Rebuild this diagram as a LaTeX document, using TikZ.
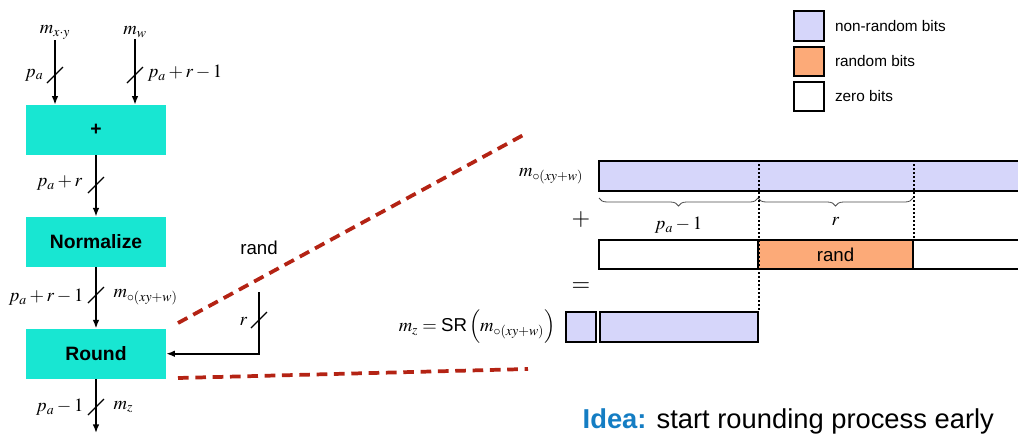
\documentclass[tikz,border=0pt]{standalone}
\usepackage{amsmath}
\usepackage{mathptmx}
\usepackage{fontspec}
\setmainfont{Liberation Sans}
\usepackage{tikz}
\usetikzlibrary{arrows.meta, positioning, calc, fit, decorations.pathreplacing}
\definecolor{opcyan}{RGB}{24,230,210}
\definecolor{nonrand}{RGB}{214,214,250}
\definecolor{randbits}{RGB}{252,170,120}
\definecolor{zoomred}{RGB}{180,35,20}
\definecolor{ideablue}{RGB}{20,125,195}
\tikzset{busmark/.pic={\draw[line width=1pt] (-8,8) -- (8,-8);}}

\begin{document}
\begin{tikzpicture}[
    x=0.75pt, y=-0.75pt,
    node distance=46pt,
    op/.style={rectangle, fill=opcyan, minimum width=105pt, minimum height=37.5pt, inner sep=0pt, font=\fontsize{14.5}{17}\selectfont\bfseries},
    arrow/.style={-{Latex[length=6.5pt, width=5pt]}, line width=1.2pt},
    lbl/.style={font=\fontsize{14}{16}\selectfont, inner sep=1pt},
    sans/.style={font=\fontsize{14}{16}\selectfont},
    bits/.style={rectangle, draw, line width=1.5pt, inner sep=0pt},
    legtext/.style={font=\fontsize{11.5}{13}\selectfont, anchor=west},
    brc/.style={decorate, decoration={brace, mirror, amplitude=6pt}, draw=black!70, semithick},
    zoomline/.style={draw=zoomred, line width=2.8pt, dash pattern=on 8pt off 5pt},
    dots/.style={line width=1.3pt, dash pattern=on 1.2pt off 1.8pt}
]
    \useasboundingbox (0,0) rectangle (1018,433);

    % datapath on the left
    \node[op] (plus) at (96,130) {+};
    \node[op, below=of plus] (norm) {Normalize};
    \node[op, below=of norm] (round) {Round};

    \node[lbl] (mxy) at (55,32) {$m_{x\cdot y}$};
    \node[lbl] (mw) at (135,32) {$m_w$};
    \coordinate (out) at (96,433);

    \draw[arrow] (mxy) -- (mxy |- plus.north);
    \draw[arrow] (mw) -- (mw |- plus.north);
    \draw[arrow] (plus) -- (norm);
    \draw[arrow] (norm) -- (round);
    \draw[arrow] (round) -- (out);

    \pic at (55,75) {busmark};
    \pic at (135,75) {busmark};
    \pic at (96,185) {busmark};
    \pic at (96,295) {busmark};
    \pic at (96,407) {busmark};
    \node[lbl, left] at (45,75) {$p_a$};
    \node[lbl, right] at (146,73) {$p_a + r - 1$};
    \node[lbl, left] at (84,183) {$p_a + r$};
    \node[lbl, left] at (85,297) {$p_a + r - 1$};
    \node[lbl, right] at (112,297) {$m_{\circ(xy+w)}$};
    \node[lbl, left] at (85,407) {$p_a - 1$};
    \node[lbl, right] at (112,407) {$m_z$};

    % random input
    \node[sans] (rand) at (259,248) {rand};
    \coordinate (rin) at (259,292);
    \draw[arrow] (rin) |- (round.east);
    \pic at (259,320) {busmark};
    \node[lbl, left] at (249,321) {$r$};

    % zoom lines
    \coordinate (za) at (178,323);
    \coordinate (zb) at (527,133);
    \coordinate (zc) at (178,378);
    \coordinate (zd) at (528,369);
    \draw[zoomline] (za) -- (zb);
    \draw[zoomline] (zc) -- (zd);

    % bit vectors
    \node[bits, fill=nonrand, fit={(599,161) (1024,191)}] (mval) {};
    \node[lbl, left=10pt of mval.west] {$m_{\circ(xy+w)}$};
    \node[bits, fit={(599,240) (758,269)}] (zlo) {};
    \node[bits, fill=randbits, fit={(758,240) (913,269)}, label={[sans]center:rand}] (rnd) {};
    \node[bits, fit={(913,240) (1024,269)}] (zhi) {};
    \node[bits, fill=nonrand, fit={(566,312) (596,342)}] (sgn) {};
    \node[bits, fill=nonrand, fit={(600,312) (758,342)}] (res) {};
    \node[lbl, left=6pt of sgn] {$m_z = \text{SR}\,\Bigl(m_{\circ(xy+w)}\Bigr)$};

    \node[font=\fontsize{18}{20}\selectfont] (plussign) at (581,220) {$+$};
    \node[font=\fontsize{18}{20}\selectfont] (eqsign) at (581,287) {$=$};

    \draw[brc] (599,198) -- (758,198) node[midway, below=13pt, lbl] {$p_a - 1$};
    \draw[brc] (758,198) -- (913,198) node[midway, below=13pt, lbl] {$r$};

    \draw[dots] (zlo.north east |- mval.north) -- (res.north east);
    \draw[dots] (rnd.north east |- mval.north) -- (rnd.north east);

    % legend
    \node[bits, fill=nonrand, fit={(794,11) (824,41)}] (leg1) {};
    \node[bits, fill=randbits, fit={(794,47) (824,76)}] (leg2) {};
    \node[bits, fit={(794,82) (824,111)}] (leg3) {};
    \node[legtext, right=4pt of leg1] {non-random bits};
    \node[legtext, right=4pt of leg2] {random bits};
    \node[legtext, right=4pt of leg3] {zero bits};

    \node[anchor=base west, font=\fontsize{20.5}{24}\selectfont] (idea) at (578,428) {\textcolor{ideablue}{\bfseries Idea:} start rounding process early};
\end{tikzpicture}
\end{document}
